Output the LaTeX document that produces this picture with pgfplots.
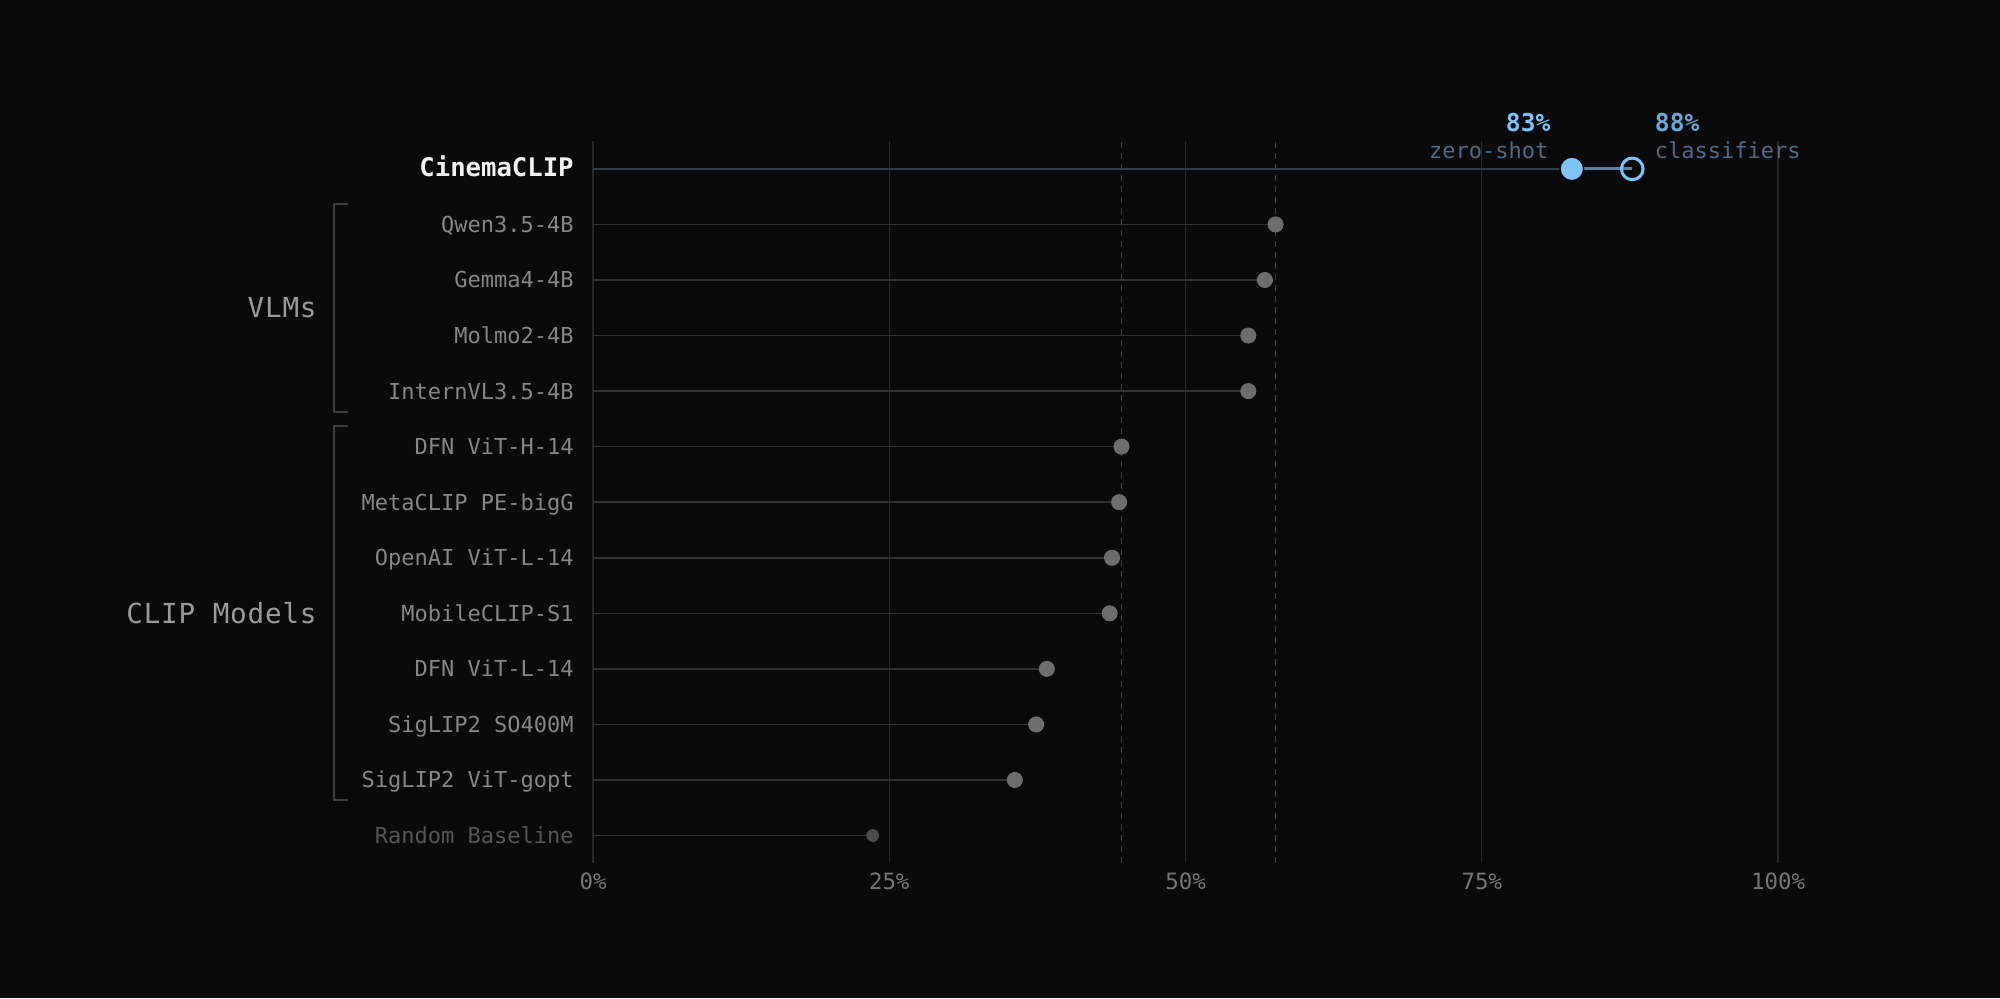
\documentclass[border=0pt]{standalone}
\usepackage{fontspec}
\setmainfont{DejaVu Sans Mono}
\newfontfamily\grpfont[LetterSpace=3]{DejaVu Sans Mono}
\usepackage{pgfplots}
\pgfplotsset{compat=1.18}
\definecolor{bg}{HTML}{0A0A0C}
\definecolor{gridc}{HTML}{27272B}
\definecolor{dashc}{HTML}{3A3A3E}
\definecolor{stemc}{HTML}{323236}
\definecolor{dotc}{HTML}{6C6C71}
\definecolor{rdotc}{HTML}{4A4A4E}
\definecolor{cstem}{HTML}{2E3D4B}
\definecolor{cseg}{HTML}{5A7E9C}
\definecolor{cblue}{HTML}{7CC4FA}
\definecolor{cblue2}{HTML}{6FA6D4}
\definecolor{annc}{HTML}{4E6A82}
\definecolor{labc}{HTML}{85858A}
\definecolor{rlabc}{HTML}{56565A}
\definecolor{titlec}{HTML}{F2F2F2}
\definecolor{tickc}{HTML}{76767A}
\definecolor{grpc}{HTML}{9A9A9E}
\definecolor{brk}{HTML}{3E3E42}
\pgfplotstableread{
y x
11 57.6
10 56.7
9 55.3
8 55.3
7 44.6
6 44.4
5 43.8
4 43.6
3 38.3
2 37.4
1 35.6
}\models
\begin{document}
\begin{tikzpicture}
\fill[bg] (0,0) rectangle (1000pt,499pt);
\begin{axis}[
  at={(296.5pt,67.35pt)}, anchor=south west,
  scale only axis, width=592.5pt, height=361.1pt,
  xmin=0, xmax=100, ymin=-0.5, ymax=12.5,
  axis line style={draw=none},
  major tick length=0pt,
  xtick={0,25,50,75,100},
  xticklabels={0\%,25\%,50\%,75\%,100\%},
  xmajorgrids, grid style={color=gridc, line width=0.6pt},
  ytick={0,...,12},
  yticklabels={{\color{rlabc}Random Baseline},SigLIP2 ViT-gopt,SigLIP2 SO400M,DFN ViT-L-14,MobileCLIP-S1,OpenAI ViT-L-14,MetaCLIP PE-bigG,DFN ViT-H-14,InternVL3.5-4B,Molmo2-4B,Gemma4-4B,Qwen3.5-4B,{\fontsize{12.8}{15}\selectfont\bfseries\color{titlec}CinemaCLIP}},
  xticklabel style={font=\fontsize{11.2}{13}\selectfont, text=tickc, anchor=north, inner sep=0pt, yshift=-4.5pt},
  yticklabel style={font=\fontsize{11}{13}\selectfont, text=labc, anchor=base east, inner sep=0pt, xshift=-9.5pt, yshift=-4pt},
  clip=false,
]
\addplot[dashc, line width=0.6pt, dash pattern=on 3pt off 2.5pt] coordinates {(44.6,-0.5) (44.6,12.5)};
\addplot[dashc, line width=0.6pt, dash pattern=on 3pt off 2.5pt] coordinates {(57.6,-0.5) (57.6,12.5)};
\addplot[xcomb, stemc, line width=0.8pt, mark=none] table[x=x,y=y] {\models};
\addplot[xcomb, stemc, line width=0.8pt, mark=none] coordinates {(23.6,0)};
\addplot[cstem, line width=1pt] coordinates {(0,12) (82.6,12)};
\addplot[cseg, line width=1.5pt] coordinates {(82.6,12) (87.7,12)};
\addplot[only marks, mark=*, mark size=3.8pt, color=dotc, mark options={draw=none, fill=dotc}] table[x=x,y=y] {\models};
\addplot[only marks, mark=*, mark size=3pt, color=rdotc, mark options={draw=none, fill=rdotc}] coordinates {(23.6,0)};
\addplot[only marks, mark=*, mark size=5.9pt, color=cblue, mark options={fill=cblue, draw=bg, line width=0.7pt}] coordinates {(82.6,12)};
\addplot[only marks, mark=o, mark size=5.4pt, color=cblue, mark options={draw=cblue, line width=1.5pt, fill=none}] coordinates {(87.7,12)};
\node[anchor=base east, inner sep=0pt, font=\fontsize{12.3}{14}\selectfont\bfseries, text=cblue] at ([xshift=-10.5pt,yshift=18.45pt]axis cs:82.6,12) {83\%};
\node[anchor=base east, inner sep=0pt, font=\fontsize{11}{13}\selectfont, text=annc] at ([xshift=-11.5pt,yshift=5.3pt]axis cs:82.6,12) {zero-shot};
\node[anchor=base west, inner sep=0pt, font=\fontsize{12.3}{14}\selectfont\bfseries, text=cblue2] at ([xshift=11.15pt,yshift=18.45pt]axis cs:87.7,12) {88\%};
\node[anchor=base west, inner sep=0pt, font=\fontsize{11}{13}\selectfont, text=annc] at ([xshift=11.15pt,yshift=5.3pt]axis cs:87.7,12) {classifiers};
\draw[brk, line width=1pt] ([xshift=-122.5pt]axis cs:0,11.368) -- ([xshift=-129.5pt]axis cs:0,11.368) -- ([xshift=-129.5pt]axis cs:0,7.624) -- ([xshift=-122.5pt]axis cs:0,7.624);
\draw[brk, line width=1pt] ([xshift=-122.5pt]axis cs:0,7.372) -- ([xshift=-129.5pt]axis cs:0,7.372) -- ([xshift=-129.5pt]axis cs:0,0.64) -- ([xshift=-122.5pt]axis cs:0,0.64);
\node[anchor=base east, inner sep=0pt, font=\grpfont\fontsize{13.8}{16}\selectfont, text=grpc] at ([xshift=-138pt,yshift=-5pt]axis cs:0,9.5) {VLMs};
\node[anchor=base east, inner sep=0pt, font=\grpfont\fontsize{13.8}{16}\selectfont, text=grpc] at ([xshift=-138pt,yshift=-5pt]axis cs:0,4) {CLIP Models};
\end{axis}
\pgfresetboundingbox
\path (0,0) rectangle (1000pt,499pt);
\end{tikzpicture}
\end{document}
